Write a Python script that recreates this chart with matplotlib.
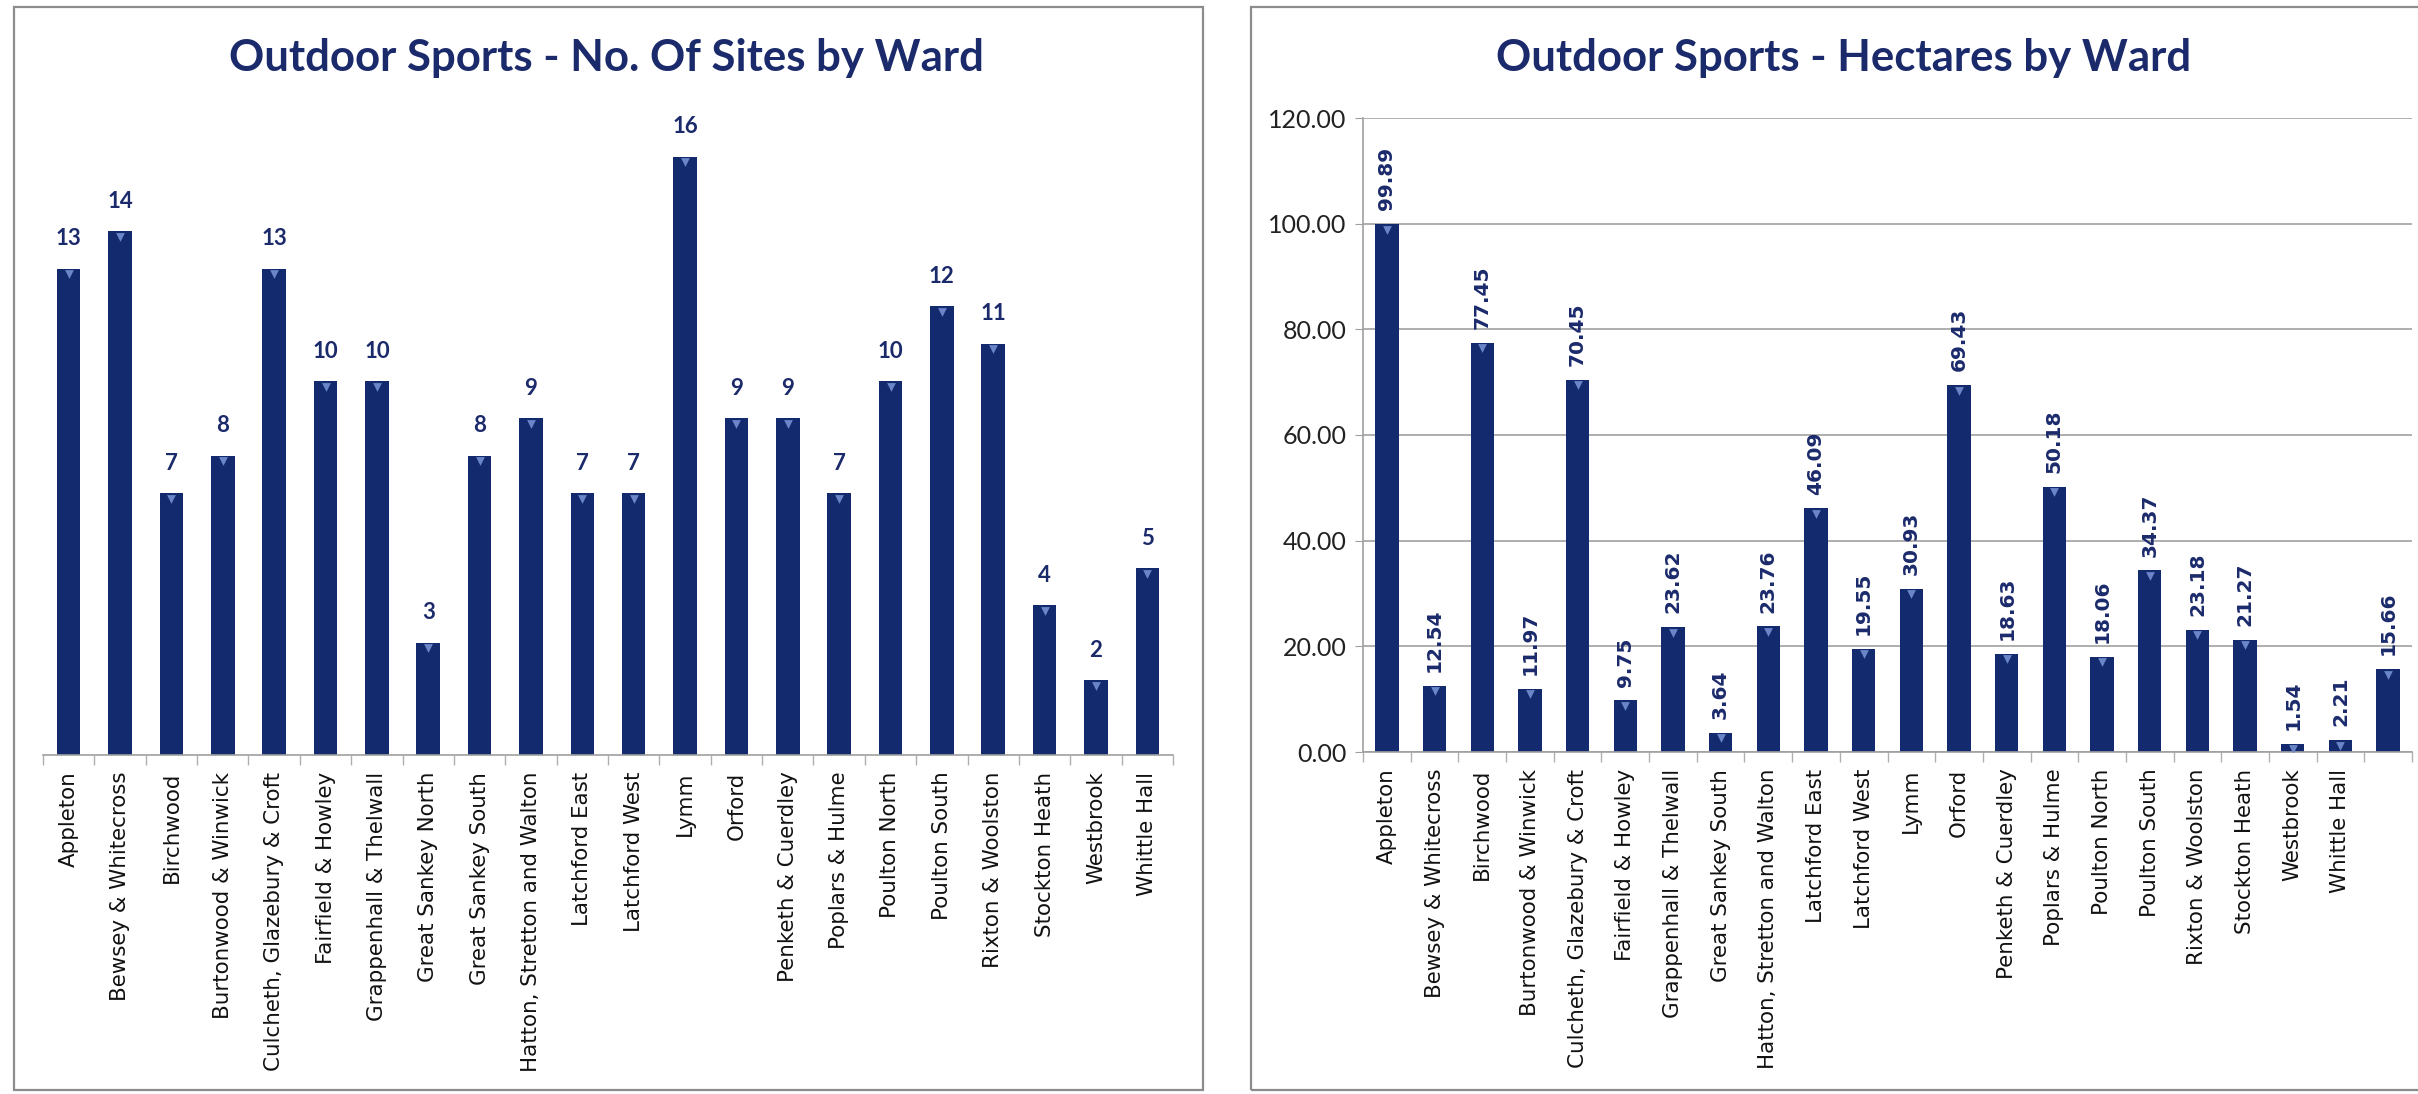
"""
Outdoor Sports by Ward: number of sites (left) and hectares (right).
"""
import matplotlib
matplotlib.use("Agg")
import matplotlib.pyplot as plt
from matplotlib.patches import Rectangle
from matplotlib.transforms import ScaledTranslation
from matplotlib.ticker import FixedLocator, FormatStrFormatter

# --- Data ---
WARDS_SITES = [
    "Appleton", "Bewsey & Whitecross", "Birchwood", "Burtonwood & Winwick",
    "Culcheth, Glazebury & Croft", "Fairfield & Howley", "Grappenhall & Thelwall",
    "Great Sankey North", "Great Sankey South", "Hatton, Stretton and Walton",
    "Latchford East", "Latchford West", "Lymm", "Orford", "Penketh & Cuerdley",
    "Poplars & Hulme", "Poulton North", "Poulton South", "Rixton & Woolston",
    "Stockton Heath", "Westbrook", "Whittle Hall",
]
SITES = [13, 14, 7, 8, 13, 10, 10, 3, 8, 9, 7, 7, 16, 9, 9, 7, 10, 12, 11, 4, 2, 5]

# the hectares chart has no Great Sankey North label, and one unlabelled bar at the end
WARDS_HA = [
    "Appleton", "Bewsey & Whitecross", "Birchwood", "Burtonwood & Winwick",
    "Culcheth, Glazebury & Croft", "Fairfield & Howley", "Grappenhall & Thelwall",
    "Great Sankey South", "Hatton, Stretton and Walton", "Latchford East",
    "Latchford West", "Lymm", "Orford", "Penketh & Cuerdley", "Poplars & Hulme",
    "Poulton North", "Poulton South", "Rixton & Woolston", "Stockton Heath",
    "Westbrook", "Whittle Hall", "",
]
HECTARES = [99.89, 12.54, 77.45, 11.97, 70.45, 9.75, 23.62, 3.64, 23.76, 46.09, 19.55,
            30.93, 69.43, 18.63, 50.18, 18.06, 34.37, 23.18, 21.27, 1.54, 2.21, 15.66]
HA_TICKS = [0, 20, 40, 60, 80, 100, 120]

BAR = "#132a6e"
HILITE = "#6a86c8"
NAVY = "#1b2a6b"
GRAY = "#8c8c8c"
W, H = 2418, 1094


def frac_box(x0, y0, x1, y1):
    """Pixel box (top-left origin) -> [left, bottom, width, height] in figure fraction."""
    return [x0 / W, 1 - y1 / H, (x1 - x0) / W, (y1 - y0) / H]


def style_xaxis(ax, labels):
    n = len(labels)
    ax.set_xlim(-0.5, n - 0.5)
    ax.set_xticks(range(n))
    ax.set_xticklabels(labels, rotation=90, fontsize=15.4, family="DejaVu Sans", color="#111111")
    ax.tick_params(axis="x", which="major", length=0, pad=12)
    ax.xaxis.set_minor_locator(FixedLocator([i - 0.5 for i in range(n + 1)]))
    ax.tick_params(axis="x", which="minor", length=7, color="#b0b0b0", width=1)
    for s in ("top", "right"):
        ax.spines[s].set_visible(False)
    ax.spines["bottom"].set_color("#a0a0a0")
    ax.spines["bottom"].set_linewidth(1.2)


def bar_tops(ax, fig, x, vals, size):
    off = ScaledTranslation(0, -4 / 72, fig.dpi_scale_trans)
    ax.scatter(x, vals, marker="v", s=size, color=HILITE, linewidths=0,
               transform=ax.transData + off, zorder=3)


fig = plt.figure(figsize=(W / 100, H / 100), dpi=100)

# chart frames
for x0, x1 in [(14, 1203), (1251, 2440)]:
    fig.patches.append(Rectangle((x0 / W, 1 - 1090 / H), (x1 - x0) / W, (1090 - 7) / H,
                                 transform=fig.transFigure, fill=False,
                                 edgecolor=GRAY, linewidth=1.6))

# --- Left: No. of sites ---
ax1 = fig.add_axes(frac_box(43, 755 - 18 * 37.4, 1173, 755))
x = range(len(SITES))
ax1.bar(x, SITES, width=0.46, color=BAR, zorder=2)
bar_tops(ax1, fig, list(x), SITES, 40)
ax1.set_ylim(0, 18)
ax1.set_yticks([])
ax1.spines["left"].set_visible(False)
style_xaxis(ax1, WARDS_SITES)
for i, v in enumerate(SITES):
    ax1.annotate(str(v), (i, v), xytext=(0, 14), textcoords="offset points",
                 ha="center", va="bottom", fontsize=16, fontweight="bold",
                 family="Lato", color=NAVY)
fig.text(606 / W, 1 - 58 / H, "Outdoor Sports - No. Of Sites by Ward", ha="center",
         va="center", fontsize=31.5, fontweight="bold", family="Lato", color=NAVY)

# --- Right: hectares ---
ax2 = fig.add_axes(frac_box(1363, 118, 2412, 752))
x = range(len(HECTARES))
ax2.bar(x, HECTARES, width=0.49, color=BAR, zorder=2)
bar_tops(ax2, fig, list(x), HECTARES, 40)
ax2.set_ylim(0, 120)
ax2.set_yticks(HA_TICKS)
ax2.yaxis.set_major_formatter(FormatStrFormatter("%.2f"))
ax2.tick_params(axis="y", length=6, color="#a0a0a0", labelsize=18, pad=6)
for lab in ax2.get_yticklabels():
    lab.set_family("Lato")
    lab.set_color("#222222")
ax2.grid(axis="y", color="#a8a8a8", linewidth=1.3, zorder=0)
ax2.set_axisbelow(True)
ax2.spines["left"].set_color("#a0a0a0")
ax2.spines["left"].set_linewidth(1.2)
style_xaxis(ax2, WARDS_HA)
for i, v in enumerate(HECTARES):
    ax2.annotate(f"{v:.2f}", (i, v), xytext=(0, 10), textcoords="offset points",
                 ha="center", va="bottom", rotation=90, fontsize=14.5, fontweight="bold",
                 family="DejaVu Sans", color=NAVY)
fig.text(1844 / W, 1 - 58 / H, "Outdoor Sports - Hectares by Ward", ha="center",
         va="center", fontsize=31.5, fontweight="bold", family="Lato", color=NAVY)

fig.savefig("out.png", dpi=100, facecolor="white")
